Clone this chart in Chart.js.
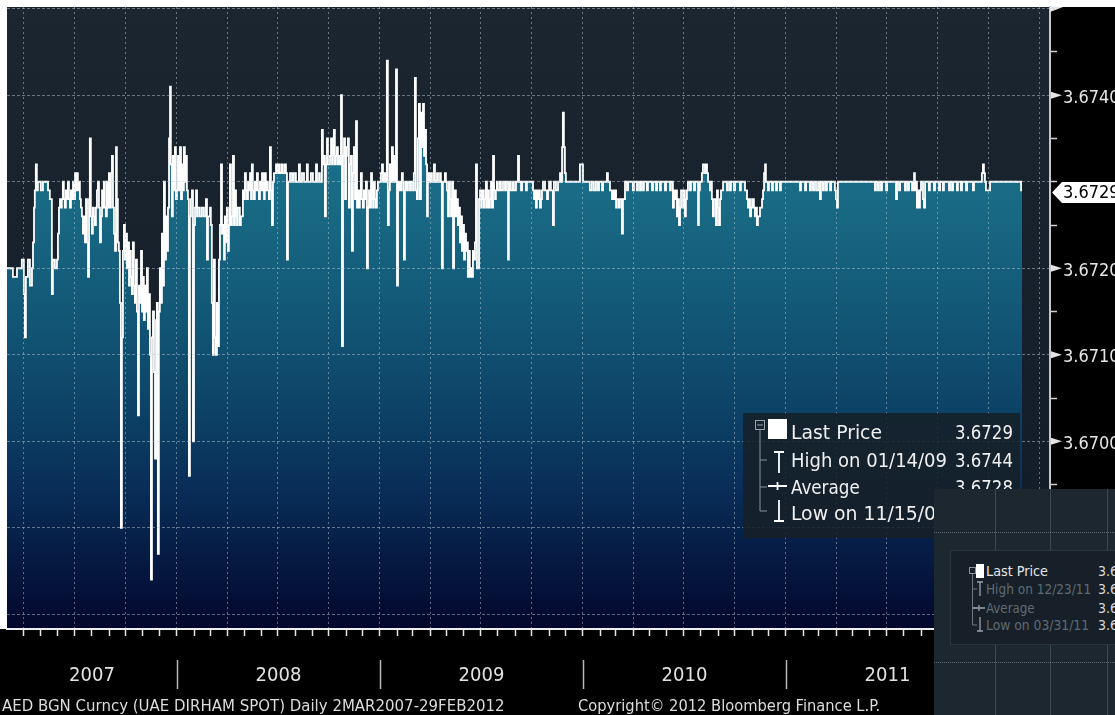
<!DOCTYPE html>
<html>
<head>
<meta charset="utf-8">
<title>AED BGN Curncy</title>
<script src="https://cdn.jsdelivr.net/npm/chart.js@4.4.1/dist/chart.umd.min.js"></script>
<style>
  html, body { margin: 0; padding: 0; background: #000; }
  #wrap {
    position: relative; width: 1115px; height: 715px; overflow: hidden; background: #000;
    font-family: "DejaVu Sans Condensed", "Liberation Sans Narrow", "DejaVu Sans", sans-serif;
    font-stretch: condensed;
  }
  #chart { position: absolute; left: 0; top: 0; }
  .fit { position: absolute; white-space: nowrap; display: inline-block; }
  .foot { top: 696px; font-size: 16px; line-height: 19px; color: #dcdcdc; transform-origin: 0 50%; }

  #legend { position: absolute; left: 743px; top: 413px; width: 277px; height: 125px; background: rgba(22, 31, 39, 0.86); }
  #legend svg, #mini svg { position: absolute; left: 0; top: 0; }
  #legend .lbl { left: 48px; font-size: 20px; line-height: 24px; color: #f0f0f0; transform-origin: 0 50%; }
  #legend .val { right: 7px; font-size: 20px; line-height: 24px; color: #f0f0f0; transform-origin: 100% 50%; }

  #inset { position: absolute; left: 934px; top: 489px; width: 181px; height: 226px; background: #1d2730; overflow: hidden; }
  #inset .vl { position: absolute; top: 0; bottom: 0; width: 1px; background: rgba(120, 136, 148, 0.35); }
  #inset .hl { position: absolute; left: 0; right: 0; height: 0; border-top: 1px dotted rgba(160, 172, 182, 0.5); }
  #mini { position: absolute; left: 16px; top: 61px; width: 180px; height: 93px; background: #172028; border: 1px solid #2b363f; }
  #mini .lbl { left: 35px; font-size: 14px; line-height: 18px; color: #5f6a73; transform-origin: 0 50%; }
  #mini .lbl.on { color: #e6e6e6; }
  #mini .val { left: 147px; font-size: 14px; line-height: 18px; color: #d8d8d8; }
</style>
</head>
<body>
<div id="wrap">
  <canvas id="chart" width="1115" height="715"></canvas>

  <div id="legend">
    <svg width="277" height="125">
      <rect x="12.5" y="7.5" width="9" height="9" fill="none" stroke="#9aa3aa"/>
      <line x1="14" y1="12" x2="20" y2="12" stroke="#9aa3aa"/>
      <path d="M17 17 V98 M17 47 H24 M17 74 H24 M17 98 H24" stroke="#8a939a" fill="none"/>
      <rect x="25" y="6" width="19" height="20" fill="#fff"/>
      <path d="M31 39 H41 M36 39 V60" stroke="#fff" stroke-width="1.8" fill="none"/>
      <path d="M25 73 H44 M34.5 69 V77" stroke="#fff" stroke-width="1.8" fill="none"/>
      <path d="M36 87 V108 M31 108 H41" stroke="#fff" stroke-width="1.8" fill="none"/>
    </svg>
    <span class="fit lbl" style="top:7px" data-w="91">Last Price</span>
    <span class="fit val" style="top:7px" data-w="58">3.6729</span>
    <span class="fit lbl" style="top:35px" data-w="156">High on 01/14/09</span>
    <span class="fit val" style="top:35px" data-w="58">3.6744</span>
    <span class="fit lbl" style="top:62px" data-w="69">Average</span>
    <span class="fit val" style="top:62px" data-w="58">3.6728</span>
    <span class="fit lbl" style="top:88px" data-w="157">Low on 11/15/07</span>
    <span class="fit val" style="top:88px" data-w="58">3.6684</span>
  </div>

  <div id="inset">
    <div class="vl" style="left:61px"></div>
    <div class="vl" style="left:116px"></div>
    <div class="vl" style="left:173px"></div>
    <div class="hl" style="top:43px"></div>
    <div class="hl" style="top:173px"></div>
    <div id="mini">
      <svg width="180" height="93">
        <rect x="18.5" y="16.5" width="6" height="6" fill="none" stroke="#8a939a"/>
        <path d="M21.5 23 V74 M21.5 38 H26 M21.5 57 H26 M21.5 74 H26" stroke="#6f7981" fill="none"/>
        <rect x="25" y="13" width="8" height="14" fill="#fff"/>
        <path d="M26 31 H32 M29 31 V45" stroke="#9aa3aa" stroke-width="1.3" fill="none"/>
        <path d="M22 57 H34 M28 54 V60" stroke="#9aa3aa" stroke-width="1.3" fill="none"/>
        <path d="M29 66 V80 M26 80 H32" stroke="#9aa3aa" stroke-width="1.3" fill="none"/>
      </svg>
      <span class="fit lbl on" style="top:11px" data-w="62">Last Price</span>
      <span class="fit val" style="top:11px">3.67</span>
      <span class="fit lbl" style="top:29px" data-w="105">High on 12/23/11</span>
      <span class="fit val" style="top:29px">3.67</span>
      <span class="fit lbl" style="top:48px" data-w="49">Average</span>
      <span class="fit val" style="top:48px">3.67</span>
      <span class="fit lbl" style="top:65px" data-w="103">Low on 03/31/11</span>
      <span class="fit val" style="top:65px">3.67</span>
    </div>
  </div>

  <span class="fit foot" style="left:2px" data-w="503">AED BGN Curncy (UAE DIRHAM SPOT) Daily 2MAR2007-29FEB2012</span>
  <span class="fit foot" style="left:578px" data-w="302">Copyright© 2012 Bloomberg Finance L.P.</span>
</div>

<script>
// UAE dirham spot, daily. Each reading holds until the next one.
// frac = position inside the calendar year, rate = AED per USD
const years = [2007, 2008, 2009, 2010, 2011, 2012];

const frac2007 = [
  .163, .192, .212, .236, .246, .251, .256, .266, .276, .286,
  .291, .296, .300, .305, .310, .315, .330, .340, .365, .374,
  .384, .389, .399, .409, .414, .419, .424, .429, .433, .438,
  .443, .448, .453, .458, .463, .468, .473, .478, .483, .488,
  .493, .498, .502, .507, .512, .517, .522, .527, .532, .537,
  .542, .547, .552, .557, .562, .567, .571, .576, .581, .586,
  .591, .596, .601, .606, .611, .616, .621, .626, .631, .635,
  .640, .645, .650, .655, .660, .665, .670, .675, .680, .685,
  .690, .695, .700, .704, .709, .714, .719, .724, .729, .734,
  .739, .744, .749, .754, .759, .764, .768, .773, .778, .783,
  .788, .793, .798, .803, .808, .813, .818, .823, .828, .833,
  .837, .842, .847, .852, .857, .862, .867, .872, .877, .882,
  .887, .892, .897, .901, .906, .911, .916, .921, .926, .931,
  .936, .941, .946, .951, .956, .961, .966, .970, .975, .980,
  .985, .990, .995
];
const rate2007 = [
  3.6720, 3.6719, 3.6720, 3.6721, 3.6717, 3.6712, 3.6719, 3.6721, 3.6718, 3.6720,
  3.6723, 3.6727, 3.6729, 3.6732, 3.6729, 3.6730, 3.6729, 3.6730, 3.6729, 3.6728,
  3.6717, 3.6721, 3.6720, 3.6721, 3.6724, 3.6727, 3.6728, 3.6727, 3.6728, 3.6730,
  3.6728, 3.6727, 3.6729, 3.6728, 3.6730, 3.6728, 3.6727, 3.6729, 3.6728, 3.6730,
  3.6728, 3.6731, 3.6729, 3.6731, 3.6729, 3.6730, 3.6728, 3.6727, 3.6726, 3.6724,
  3.6726, 3.6723, 3.6728, 3.6723, 3.6719, 3.6728, 3.6735, 3.6726, 3.6724, 3.6727,
  3.6726, 3.6725, 3.6727, 3.6729, 3.6730, 3.6727, 3.6723, 3.6726, 3.6729, 3.6727,
  3.6730, 3.6727, 3.6726, 3.6730, 3.6727, 3.6731, 3.6727, 3.6731, 3.6733, 3.6727,
  3.6724, 3.6722, 3.6734, 3.6728, 3.6723, 3.6722, 3.6716, 3.6690, 3.6712, 3.6722,
  3.6725, 3.6721, 3.6724, 3.6720, 3.6723, 3.6718, 3.6722, 3.6719, 3.6717, 3.6723,
  3.6718, 3.6716, 3.6721, 3.6715, 3.6703, 3.6718, 3.6716, 3.6722, 3.6715, 3.6719,
  3.6714, 3.6718, 3.6715, 3.6720, 3.6713, 3.6717, 3.6710, 3.6684, 3.6712, 3.6715,
  3.6708, 3.6698, 3.6714, 3.6716, 3.6687, 3.6715, 3.6720, 3.6716, 3.6724, 3.6718,
  3.6730, 3.6721, 3.6726, 3.6722, 3.6727, 3.6735, 3.6741, 3.6732, 3.6726, 3.6733,
  3.6729, 3.6734, 3.6728
];

const frac2008 = [
  .000, .005, .010, .015, .020, .025, .030, .034, .039, .044,
  .049, .054, .059, .064, .069, .074, .079, .084, .089, .094,
  .099, .103, .113, .123, .133, .143, .148, .153, .163, .167,
  .172, .177, .182, .187, .192, .197, .202, .207, .212, .217,
  .222, .227, .232, .236, .241, .246, .251, .256, .261, .266,
  .271, .276, .281, .286, .291, .296, .300, .310, .315, .325,
  .330, .335, .340, .345, .350, .355, .360, .365, .369, .374,
  .379, .384, .389, .394, .399, .404, .409, .414, .419, .424,
  .429, .433, .438, .443, .448, .453, .458, .463, .468, .473,
  .478, .488, .493, .502, .507, .517, .522, .532, .537, .542,
  .547, .557, .567, .576, .586, .601, .606, .616, .626, .640,
  .645, .660, .670, .685, .690, .700, .704, .714, .719, .724,
  .729, .734, .739, .744, .754, .759, .764, .768, .773, .778,
  .783, .788, .793, .798, .803, .808, .813, .818, .823, .828,
  .833, .837, .842, .847, .852, .857, .862, .867, .872, .877,
  .882, .887, .892, .897, .901, .906, .911, .916, .921, .926,
  .931, .936, .941, .946, .951, .956, .961, .966, .970, .975,
  .980, .985, .990
];
const rate2008 = [
  3.6729, 3.6733, 3.6729, 3.6734, 3.6728, 3.6732, 3.6729, 3.6734, 3.6730, 3.6733,
  3.6729, 3.6728, 3.6696, 3.6726, 3.6728, 3.6729, 3.6700, 3.6725, 3.6727, 3.6729,
  3.6726, 3.6727, 3.6726, 3.6727, 3.6726, 3.6728, 3.6721, 3.6726, 3.6727, 3.6725,
  3.6716, 3.6710, 3.6721, 3.6712, 3.6710, 3.6716, 3.6711, 3.6721, 3.6725, 3.6732,
  3.6724, 3.6725, 3.6721, 3.6726, 3.6723, 3.6727, 3.6722, 3.6725, 3.6732, 3.6725,
  3.6726, 3.6733, 3.6725, 3.6729, 3.6726, 3.6725, 3.6727, 3.6725, 3.6726, 3.6729,
  3.6728, 3.6731, 3.6729, 3.6728, 3.6730, 3.6729, 3.6731, 3.6728, 3.6732, 3.6729,
  3.6728, 3.6730, 3.6729, 3.6731, 3.6729, 3.6728, 3.6730, 3.6729, 3.6731, 3.6729,
  3.6728, 3.6731, 3.6729, 3.6730, 3.6729, 3.6728, 3.6734, 3.6729, 3.6725, 3.6730,
  3.6731, 3.6732, 3.6731, 3.6732, 3.6731, 3.6732, 3.6731, 3.6732, 3.6731, 3.6721,
  3.6730, 3.6731, 3.6730, 3.6731, 3.6730, 3.6732, 3.6730, 3.6731, 3.6730, 3.6732,
  3.6730, 3.6731, 3.6730, 3.6732, 3.6730, 3.6731, 3.6730, 3.6736, 3.6732, 3.6733,
  3.6726, 3.6732, 3.6735, 3.6732, 3.6733, 3.6735, 3.6732, 3.6733, 3.6736, 3.6732,
  3.6733, 3.6734, 3.6732, 3.6733, 3.6732, 3.6740, 3.6711, 3.6733, 3.6735, 3.6728,
  3.6733, 3.6734, 3.6735, 3.6727, 3.6732, 3.6733, 3.6722, 3.6731, 3.6734, 3.6728,
  3.6737, 3.6727, 3.6729, 3.6727, 3.6728, 3.6731, 3.6728, 3.6727, 3.6729, 3.6728,
  3.6730, 3.6720, 3.6727, 3.6729, 3.6727, 3.6731, 3.6728, 3.6727, 3.6730, 3.6728,
  3.6727, 3.6729, 3.6730
];

const frac2009 = [
  .000, .005, .010, .015, .020, .025, .030, .034, .039, .044,
  .049, .054, .059, .064, .069, .074, .079, .084, .089, .094,
  .099, .103, .108, .113, .118, .123, .128, .133, .138, .148,
  .153, .163, .167, .172, .177, .182, .187, .192, .197, .202,
  .207, .212, .217, .222, .227, .232, .236, .241, .246, .251,
  .256, .266, .271, .281, .286, .296, .300, .305, .310, .320,
  .325, .330, .335, .340, .345, .350, .355, .360, .365, .369,
  .374, .379, .384, .389, .394, .399, .404, .409, .414, .419,
  .424, .429, .433, .438, .443, .448, .453, .458, .463, .468,
  .473, .478, .488, .493, .498, .502, .507, .512, .517, .522,
  .527, .532, .537, .542, .547, .552, .557, .562, .567, .571,
  .576, .581, .591, .596, .606, .616, .621, .631, .635, .640,
  .645, .655, .660, .670, .680, .685, .695, .700, .719, .724,
  .754, .759, .764, .768, .773, .778, .783, .788, .793, .798,
  .803, .813, .823, .828, .833, .842, .852, .857, .867, .877,
  .887, .892, .897, .901, .906, .911, .916, .985
];
const rate2009 = [
  3.6730, 3.6731, 3.6732, 3.6730, 3.6731, 3.6730, 3.6731, 3.6744, 3.6725, 3.6729,
  3.6732, 3.6730, 3.6734, 3.6730, 3.6733, 3.6730, 3.6743, 3.6718, 3.6730, 3.6729,
  3.6730, 3.6729, 3.6731, 3.6730, 3.6721, 3.6729, 3.6730, 3.6729, 3.6730, 3.6729,
  3.6730, 3.6729, 3.6731, 3.6742, 3.6729, 3.6728, 3.6735, 3.6739, 3.6728, 3.6738,
  3.6734, 3.6739, 3.6733, 3.6736, 3.6732, 3.6726, 3.6730, 3.6731, 3.6730, 3.6731,
  3.6730, 3.6732, 3.6730, 3.6731, 3.6730, 3.6731, 3.6730, 3.6720, 3.6730, 3.6731,
  3.6730, 3.6729, 3.6726, 3.6730, 3.6728, 3.6726, 3.6730, 3.6720, 3.6726, 3.6729,
  3.6726, 3.6728, 3.6725, 3.6727, 3.6723, 3.6726, 3.6722, 3.6725, 3.6721, 3.6724,
  3.6722, 3.6723, 3.6719, 3.6722, 3.6719, 3.6720, 3.6719, 3.6722, 3.6721, 3.6723,
  3.6732, 3.6720, 3.6728, 3.6729, 3.6727, 3.6728, 3.6729, 3.6727, 3.6728, 3.6730,
  3.6727, 3.6729, 3.6727, 3.6728, 3.6730, 3.6727, 3.6733, 3.6729, 3.6728, 3.6729,
  3.6730, 3.6729, 3.6730, 3.6729, 3.6730, 3.6729, 3.6730, 3.6721, 3.6729, 3.6730,
  3.6729, 3.6730, 3.6729, 3.6730, 3.6733, 3.6730, 3.6729, 3.6730, 3.6729, 3.6730,
  3.6729, 3.6728, 3.6729, 3.6727, 3.6729, 3.6728, 3.6729, 3.6727, 3.6728, 3.6729,
  3.6730, 3.6729, 3.6728, 3.6729, 3.6730, 3.6729, 3.6725, 3.6730, 3.6729, 3.6730,
  3.6731, 3.6730, 3.6734, 3.6738, 3.6734, 3.6731, 3.6730, 3.6732
];

const frac2010 = [
  .000, .034, .044, .054, .064, .074, .079, .094, .099, .118,
  .123, .133, .143, .148, .153, .158, .163, .167, .177, .182,
  .192, .197, .207, .217, .222, .246, .251, .266, .271, .281,
  .286, .296, .300, .315, .320, .340, .345, .360, .365, .379,
  .384, .404, .409, .429, .433, .443, .448, .453, .458, .463,
  .468, .473, .478, .483, .493, .498, .502, .507, .512, .517,
  .527, .532, .547, .552, .567, .571, .576, .586, .591, .601,
  .606, .611, .616, .626, .631, .635, .640, .645, .655, .660,
  .665, .670, .675, .680, .690, .709, .714, .724, .729, .744,
  .749, .773, .778, .798, .808, .813, .818, .823, .828, .833,
  .842, .847, .852, .857, .862, .872, .882, .887, .892, .897,
  .901, .911, .916, .931, .936, .951, .956, .970, .975
];
const rate2010 = [
  3.6730, 3.6729, 3.6730, 3.6729, 3.6730, 3.6729, 3.6730, 3.6729, 3.6730, 3.6731,
  3.6730, 3.6729, 3.6728, 3.6729, 3.6728, 3.6729, 3.6727, 3.6728, 3.6727, 3.6728,
  3.6724, 3.6728, 3.6730, 3.6729, 3.6730, 3.6729, 3.6730, 3.6729, 3.6730, 3.6729,
  3.6730, 3.6729, 3.6730, 3.6729, 3.6730, 3.6729, 3.6730, 3.6729, 3.6730, 3.6729,
  3.6730, 3.6729, 3.6730, 3.6729, 3.6730, 3.6727, 3.6729, 3.6728, 3.6729, 3.6726,
  3.6728, 3.6725, 3.6727, 3.6729, 3.6727, 3.6729, 3.6726, 3.6728, 3.6729, 3.6730,
  3.6729, 3.6730, 3.6729, 3.6730, 3.6725, 3.6729, 3.6730, 3.6731, 3.6732, 3.6731,
  3.6732, 3.6731, 3.6730, 3.6729, 3.6730, 3.6728, 3.6726, 3.6728, 3.6725, 3.6729,
  3.6727, 3.6725, 3.6728, 3.6729, 3.6730, 3.6729, 3.6730, 3.6729, 3.6730, 3.6729,
  3.6730, 3.6729, 3.6730, 3.6729, 3.6728, 3.6727, 3.6728, 3.6726, 3.6727, 3.6728,
  3.6727, 3.6726, 3.6727, 3.6725, 3.6726, 3.6727, 3.6728, 3.6729, 3.6731, 3.6732,
  3.6730, 3.6729, 3.6730, 3.6729, 3.6730, 3.6729, 3.6730, 3.6729, 3.6730
];

const frac2011 = [
  .069, .074, .094, .099, .118, .123, .133, .138, .148, .158,
  .167, .172, .182, .187, .197, .202, .217, .222, .241, .246,
  .251, .256, .438, .443, .453, .458, .468, .473, .493, .498,
  .542, .547, .557, .562, .586, .591, .601, .606, .621, .626,
  .631, .635, .640, .645, .650, .655, .660, .665, .675, .680,
  .685, .704, .709, .729, .734, .754, .759, .773, .778, .803,
  .808, .818, .823, .842, .847, .862, .867, .887, .892, .921,
  .926, .965, .970, .975, .980, .985
];
const rate2011 = [
  3.6729, 3.6730, 3.6729, 3.6730, 3.6729, 3.6730, 3.6729, 3.6730, 3.6729, 3.6730,
  3.6728, 3.6730, 3.6729, 3.6730, 3.6729, 3.6730, 3.6729, 3.6730, 3.6729, 3.6728,
  3.6727, 3.6730, 3.6729, 3.6730, 3.6729, 3.6730, 3.6729, 3.6730, 3.6729, 3.6730,
  3.6728, 3.6730, 3.6729, 3.6730, 3.6729, 3.6730, 3.6729, 3.6730, 3.6729, 3.6730,
  3.6731, 3.6729, 3.6730, 3.6727, 3.6729, 3.6727, 3.6729, 3.6730, 3.6728, 3.6727,
  3.6730, 3.6729, 3.6730, 3.6729, 3.6730, 3.6729, 3.6730, 3.6729, 3.6730, 3.6729,
  3.6730, 3.6729, 3.6730, 3.6729, 3.6730, 3.6729, 3.6730, 3.6729, 3.6730, 3.6729,
  3.6730, 3.6731, 3.6732, 3.6731, 3.6730, 3.6729
];

const frac2012 = [.005, .158, .163];
const rate2012 = [3.6730, 3.6729, 3.6729];

// axis settings
const xMin = 2007.163, xMax = 2012.3005;
const yMin = 3.66783, yMax = 3.67502;
const yTickValues = [3.6680, 3.6685, 3.6690, 3.6695, 3.6700, 3.6705, 3.6710, 3.6715,
                     3.6720, 3.6725, 3.6730, 3.6735, 3.6740, 3.6745, 3.6750];
const yLabelValues = [3.6680, 3.6690, 3.6700, 3.6710, 3.6720, 3.6740];

const FONT = '"DejaVu Sans Condensed", "Liberation Sans Narrow", "DejaVu Sans", sans-serif';
const gridColor = 'rgba(185, 200, 212, 0.5)';

const fracs = [frac2007, frac2008, frac2009, frac2010, frac2011, frac2012];
const rates = [rate2007, rate2008, rate2009, rate2010, rate2011, rate2012];
const points = [];
years.forEach((yr, i) => fracs[i].forEach((f, j) => points.push({ x: yr + f, y: rates[i][j] })));
const lastRate = points[points.length - 1].y;

// month ticks along the date axis, quarter starts get a grid line
function yearFrac(y, m) {
  const start = Date.UTC(y, 0, 1), next = Date.UTC(y + 1, 0, 1);
  return y + (Date.UTC(y, m, 1) - start) / (next - start);
}
const monthTicks = [], quarterTicks = [];
years.forEach(y => {
  for (let m = 0; m < 12; m++) {
    const v = yearFrac(y, m);
    if (v > xMin && v < xMax) {
      monthTicks.push(v);
      if (m % 3 === 0) quarterTicks.push(v);
    }
  }
});

function isLabelled(v) {
  return yLabelValues.some(l => Math.abs(l - v) < 1e-7) && Math.abs(v - lastRate) > 0.0003;
}

function fillGradient(context) {
  const { chart } = context;
  const a = chart.chartArea;
  if (!a) return 'rgba(20, 100, 130, 0.9)';
  const g = chart.ctx.createLinearGradient(0, a.top, 0, a.bottom);
  g.addColorStop(0.00, '#1f7f99');
  g.addColorStop(0.30, '#196b86');
  g.addColorStop(0.47, '#135a78');
  g.addColorStop(0.63, '#0d4568');
  g.addColorStop(0.79, '#082b55');
  g.addColorStop(0.95, '#040f36');
  g.addColorStop(1.00, '#02072a');
  return g;
}

// no extra room for the first and last tick labels
function flatFit(s, size) {
  if (s.isHorizontal()) s.height = size; else s.width = size;
  s.paddingTop = 0;
  s.paddingBottom = 0;
  s.paddingLeft = 0;
  s.paddingRight = 0;
}

const screenPlugin = {
  id: 'screen',
  beforeDraw(chart) {
    const { ctx, chartArea: a } = chart;
    ctx.save();
    ctx.fillStyle = '#000';
    ctx.fillRect(0, 0, chart.width, chart.height);
    ctx.fillStyle = '#fff';
    ctx.fillRect(0, 0, chart.width, a.top);
    ctx.fillRect(0, 0, a.left, a.bottom);
    const g = ctx.createLinearGradient(0, a.top, 0, a.bottom);
    g.addColorStop(0, '#1c2631');
    g.addColorStop(1, '#111b27');
    ctx.fillStyle = g;
    ctx.fillRect(a.left, a.top, a.right - a.left, a.bottom - a.top);
    ctx.restore();
  },
  afterDraw(chart) {
    const { ctx, chartArea: a, scales: { x, y } } = chart;
    ctx.save();

    // pointers beside the price labels
    ctx.fillStyle = '#e4e4e4';
    yLabelValues.filter(isLabelled).forEach(v => {
      const py = y.getPixelForValue(v);
      ctx.beginPath();
      ctx.moveTo(a.right + 1, py - 3.5);
      ctx.lineTo(a.right + 12, py);
      ctx.lineTo(a.right + 1, py + 3.5);
      ctx.closePath();
      ctx.fill();
    });
    ctx.beginPath();
    ctx.moveTo(a.right, a.top);
    ctx.lineTo(a.right + 13, a.top);
    ctx.lineTo(a.right, a.top + 5);
    ctx.closePath();
    ctx.fill();

    // last price tag
    const ty = y.getPixelForValue(lastRate) + 2;
    ctx.fillStyle = '#fff';
    ctx.beginPath();
    ctx.moveTo(a.right + 2, ty);
    ctx.lineTo(a.right + 12, ty - 10.5);
    ctx.lineTo(chart.width, ty - 10.5);
    ctx.lineTo(chart.width, ty + 10.5);
    ctx.lineTo(a.right + 12, ty + 10.5);
    ctx.closePath();
    ctx.fill();
    ctx.fillStyle = '#000';
    ctx.font = '18px ' + FONT;
    ctx.textAlign = 'left';
    ctx.textBaseline = 'middle';
    ctx.fillText(lastRate.toFixed(4), a.right + 13, ty + 1);

    // years under the date axis
    ctx.strokeStyle = '#b8b8b8';
    ctx.lineWidth = 1.5;
    ctx.fillStyle = '#e2e2e2';
    ctx.font = '20px ' + FONT;
    ctx.textAlign = 'center';
    years.forEach(yr => {
      if (yr > xMin && yr < xMax) {
        const px = Math.round(x.getPixelForValue(yr)) + 0.5;
        ctx.beginPath();
        ctx.moveTo(px, 660);
        ctx.lineTo(px, 689);
        ctx.stroke();
      }
      const s = Math.max(yr, xMin), e = Math.min(yr + 1, xMax);
      if (e > s) ctx.fillText(String(yr), (x.getPixelForValue(s) + x.getPixelForValue(e)) / 2, 676);
    });
    ctx.restore();
  }
};

new Chart(document.getElementById('chart'), {
  type: 'line',
  data: {
    datasets: [{
      label: 'Last Price',
      data: points,
      stepped: 'before',
      borderColor: '#ffffff',
      borderWidth: 1.8,
      pointRadius: 0,
      fill: 'start',
      backgroundColor: fillGradient
    }]
  },
  options: {
    responsive: false,
    animation: false,
    parsing: false,
    normalized: true,
    events: [],
    layout: { padding: { left: 7, top: 7, right: 0, bottom: 86 } },
    plugins: { legend: { display: false }, tooltip: { enabled: false } },
    scales: {
      x: {
        type: 'linear',
        min: xMin,
        max: xMax,
        bounds: 'data',
        afterFit: s => flatFit(s, 0),
        afterBuildTicks: s => { s.ticks = monthTicks.map(v => ({ value: v })); },
        ticks: { display: false },
        grid: {
          z: 1,
          color: c => (quarterTicks.includes(c.tick.value) ? gridColor : 'transparent'),
          drawTicks: true,
          tickLength: 7,
          tickColor: '#e6e6e6',
          tickWidth: 1.5
        },
        border: { display: true, z: 1, color: '#eeeeee', width: 2, dash: [2, 3] }
      },
      y: {
        position: 'right',
        min: yMin,
        max: yMax,
        bounds: 'data',
        afterFit: s => flatFit(s, 65),
        afterBuildTicks: s => { s.ticks = yTickValues.map(v => ({ value: v })); },
        ticks: {
          autoSkip: false,
          padding: 6,
          labelOffset: 3,
          color: '#e6e6e6',
          font: { family: FONT, size: 18 },
          callback: v => (isLabelled(v) ? v.toFixed(4) : '')
        },
        grid: {
          z: 1,
          color: c => (Math.round(c.tick.value * 10000) % 10 === 0 ? gridColor : 'transparent'),
          drawTicks: true,
          tickLength: 7,
          tickColor: '#d0d0d0',
          tickWidth: 1.5
        },
        border: { display: true, z: 1, color: '#c4c8cb', width: 2, dash: [3, 2] }
      }
    }
  },
  plugins: [screenPlugin]
});

// squeeze the screen texts to the widths they take on the terminal
document.querySelectorAll('.fit[data-w]').forEach(el => {
  const w = +el.dataset.w;
  el.style.transform = 'scaleX(' + (w / el.offsetWidth).toFixed(3) + ')';
});
</script>
</body>
</html>
